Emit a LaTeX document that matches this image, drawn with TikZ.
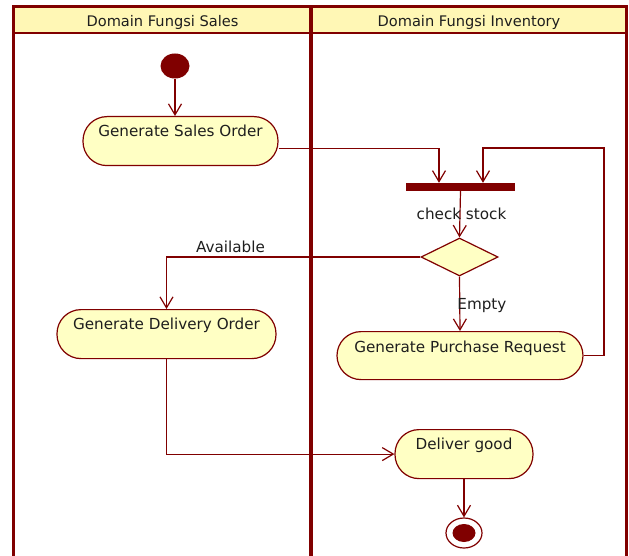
\documentclass[tikz,border=0pt]{standalone}
\usepackage{fontspec}
\setmainfont{DejaVu Sans}
\usetikzlibrary{arrows.meta, shapes.geometric}

\definecolor{marron}{HTML}{800000}
\definecolor{crema}{HTML}{FFFFC4}
\definecolor{cabecera}{HTML}{FFF7B5}
\definecolor{texto}{HTML}{1E1E1E}

\begin{document}
\begin{tikzpicture}[x=1pt, y=-1pt, >={Straight Barb[length=11pt, width=13pt]},
    every node/.style={font=\fontsize{15.2}{18}\selectfont, text=texto}]

% Estilos de actividades, flujos y carriles
\tikzset{
    actividad/.style={
        draw=marron,
        fill=crema,
        line width=1.2pt,
        rectangle,
        rounded corners=24pt,
        inner xsep=0pt, inner ysep=0pt,
        text height=20pt, text depth=29pt,
        anchor=north
    },
    flujo/.style={draw=marron, line width=1.2pt, ->},
    carril/.style={draw=marron, line width=3pt}
}

\useasboundingbox (0,0) rectangle (629,556);

% =============================================
% CARRILES (swimlanes)
% =============================================
\fill[cabecera] (13.5,7) rectangle (626.5,33);
\draw[carril] (13.5,556) -- (13.5,7) -- (626.5,7) -- (626.5,556);
\draw[marron, line width=2.5pt] (13.5,33) -- (626.5,33);
\draw[marron, line width=4.5pt] (311,7) -- (311,556);

\node[anchor=base, font=\fontsize{14.6}{17}\selectfont] (carrilsales) at (162.5,27) {Domain Fungsi Sales};
\node[anchor=base, font=\fontsize{14.6}{17}\selectfont] (carrilinventory) at (469,27) {Domain Fungsi Inventory};

% =============================================
% NODOS
% =============================================
\node[fill=marron, ellipse, minimum width=29pt, minimum height=25pt, inner sep=0pt] (inicio) at (175,66) {};

\node[actividad, minimum width=195pt] (salesorder) at (180.5,116) {Generate Sales Order};

% Barra de sincronizacion
\node[fill=marron, rectangle, minimum width=109pt, minimum height=8pt, inner sep=0pt] (barra) at (460.5,187) {};

\node[draw=marron, fill=crema, diamond, line width=1.2pt, minimum width=77pt, minimum height=38pt, inner sep=0pt] (decision) at (459.5,257) {};

\node[actividad, minimum width=219pt] (deliveryorder) at (166.5,309) {Generate Delivery Order};
\node[actividad, minimum width=246pt, text height=21pt, text depth=27pt] (purchasereq) at (460,331) {Generate Purchase Request};
\node[actividad, minimum width=138pt] (delivergood) at (464,429) {Deliver good};

% Nodo final
\node[draw=marron, line width=1.2pt, ellipse, minimum width=36pt, minimum height=30pt, inner sep=0pt] (fin) at (464,533) {};
\node[fill=marron, ellipse, minimum width=23pt, minimum height=18pt, inner sep=0pt] (finpunto) at (fin) {};

% =============================================
% FLUJOS
% =============================================
\coordinate (retorno) at (604,148);

\draw[flujo] (inicio.south) -- (inicio.south |- salesorder.north);
\draw[flujo] ([yshift=-7.5pt]salesorder.east) -| ([xshift=-21.5pt]barra.north);
\draw[flujo] (purchasereq.east) -| (retorno) -| ([xshift=22.5pt]barra.north);
\draw[flujo] (barra.south) -- node[xshift=1.5pt] {check stock} (decision.north);
\draw[flujo] (decision.west) -| node[pos=0.374, above] {Available} (deliveryorder.north);
\draw[flujo] (decision.south) -- node[pos=0.6, anchor=base west, inner sep=0pt, xshift=-3pt] {Empty} (purchasereq.north);
\draw[flujo] (deliveryorder.south) |- (delivergood.west);
\draw[flujo] (delivergood.south) -- (fin.north);

\end{tikzpicture}
\end{document}
